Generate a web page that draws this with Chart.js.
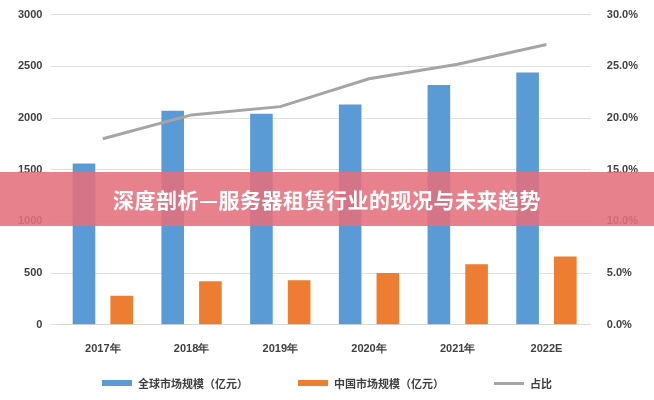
<!DOCTYPE html>
<html><head><meta charset="utf-8">
<script src="https://cdn.jsdelivr.net/npm/chart.js@4"></script>
<style>
body{margin:0;background:#fff;font-family:"Noto Sans CJK SC",sans-serif}
#wrap{position:relative;width:654px;height:400px}
#banner{position:absolute;left:0;top:172px;width:654px;height:54px;background:rgba(228,112,124,0.88);color:#fff;font-size:21px;font-weight:bold;line-height:54px;text-align:center;letter-spacing:0.5px}
#legend{position:absolute;left:0;top:375px;width:654px;display:flex;justify-content:center;gap:50px;font-size:11px;font-weight:bold;color:#404040}
#legend span.i{display:flex;align-items:center}
#legend b{display:inline-block;width:30px;height:6px;margin-right:6px}
</style></head><body>
<div id="wrap"><canvas id="c" width="654" height="400"></canvas><div id="banner">深度剖析—服务器租赁行业的现况与未来趋势</div><div id="legend"></div></div>
<script>
const categories=["2017年","2018年","2019年","2020年","2021年","2022E"];
const globalMarket=[1560,2070,2040,2130,2320,2440];
const chinaMarket=[280,420,430,500,585,660];
const share=[18.0,20.3,21.1,23.8,25.2,27.1];
const ch=new Chart(document.getElementById('c'),{
 type:'bar',
 data:{labels:categories,datasets:[
  {label:'全球市场规模（亿元）',data:globalMarket,backgroundColor:'#5b9bd5',yAxisID:'y',barPercentage:0.6,categoryPercentage:0.85,order:1},
  {label:'中国市场规模（亿元）',data:chinaMarket,backgroundColor:'#ed7d31',yAxisID:'y',barPercentage:0.6,categoryPercentage:0.85,order:1},
  {type:'line',label:'占比',data:share,yAxisID:'y2',borderColor:'#a5a5a5',backgroundColor:'#a5a5a5',borderWidth:3,pointRadius:0,tension:0,order:0}
 ]},
 options:{responsive:false,animation:false,
  layout:{padding:{left:10,right:8,top:6,bottom:34}},
  plugins:{legend:{display:false},tooltip:{enabled:false}},
  scales:{
   x:{grid:{display:false},border:{color:'#d9d9d9'},ticks:{color:'#404040',padding:10,font:{size:11,weight:'bold'}}},
   y:{min:0,max:3000,ticks:{stepSize:500,color:'#404040',padding:8,font:{size:11,weight:'bold'},callback:v=>String(v)},grid:{color:'#e0e0e0'},border:{display:false}},
   y2:{position:'right',min:0,max:30,ticks:{stepSize:5,color:'#404040',padding:8,font:{size:11,weight:'bold'},callback:v=>v.toFixed(1)+'%'},grid:{display:false},border:{display:false}}
  }}
});
const lg=document.getElementById('legend');
ch.data.datasets.forEach(d=>{const s=document.createElement('span');s.className='i';const b=document.createElement('b');b.style.background=d.backgroundColor;if(d.type==='line'){b.style.height='3px';}s.appendChild(b);s.appendChild(document.createTextNode(d.label));lg.appendChild(s);});
</script></body></html>
